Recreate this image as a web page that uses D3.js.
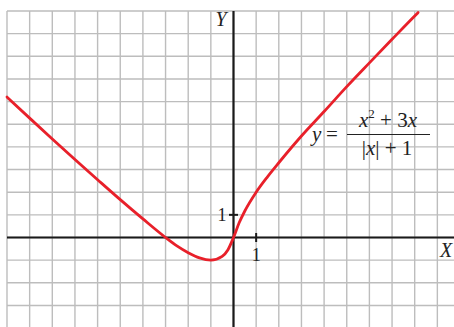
<!DOCTYPE html>
<html><head><meta charset="utf-8">
<script src="https://cdn.jsdelivr.net/npm/d3@7"></script>
<style>html,body{margin:0;padding:0;background:#fff;}svg{display:block;}</style>
</head><body>
<script>
// Points (x in grid units, y in grid units)
const curveX = [-10, -9, -8, -7, -6, -5, -4, -3, -2.5, -2, -1.5, -1, -0.5, -0.25, 0, 0.25, 0.5, 1, 1.5, 2, 3, 4, 5, 6, 7, 8, 8.15];
const curveY = [6.2, 5.27, 4.35, 3.44, 2.55, 1.67, 0.82, 0, -0.37, -0.67, -0.9, -1, -0.83, -0.55, 0, 0.65, 1.17, 2, 2.68, 3.3, 4.48, 5.56, 6.66, 7.71, 8.75, 9.78, 9.93];
const gridX = d3.range(-10, 10);   // vertical grid lines
const gridY = d3.range(-3, 11);    // horizontal grid lines
const xTickLabels = ["1"];
const yTickLabels = ["1"];

const W = 454, H = 327, U = 22.65;
const svg = d3.select("body").append("svg").attr("width", W).attr("height", H);
const x = d3.scaleLinear().domain([-10, 0]).range([7, 7 + 10 * U]);
const y = d3.scaleLinear().domain([0, 10]).range([237.5, 237.5 - 10 * U]);
const gTop = y(10), gLeft = x(-10);

const g = svg.append("g");
g.selectAll(".gv").data(gridX).enter().append("line")
  .attr("x1", d => x(d)).attr("x2", d => x(d)).attr("y1", gTop).attr("y2", H)
  .attr("stroke", "#bdbdbd").attr("stroke-width", 1.4);
g.selectAll(".gh").data(gridY).enter().append("line")
  .attr("x1", gLeft).attr("x2", W).attr("y1", d => y(d)).attr("y2", d => y(d))
  .attr("stroke", "#bdbdbd").attr("stroke-width", 1.4);

// axes
svg.append("line").attr("x1", gLeft).attr("x2", W).attr("y1", y(0)).attr("y2", y(0))
  .attr("stroke", "#1a1a1a").attr("stroke-width", 2.2);
svg.append("line").attr("x1", x(0)).attr("x2", x(0)).attr("y1", gTop).attr("y2", H)
  .attr("stroke", "#1a1a1a").attr("stroke-width", 2.2);
// ticks
svg.append("line").attr("x1", x(0) - 4.5).attr("x2", x(0) + 4.5).attr("y1", y(1)).attr("y2", y(1))
  .attr("stroke", "#1a1a1a").attr("stroke-width", 2);
svg.append("line").attr("x1", x(1)).attr("x2", x(1)).attr("y1", y(0) - 4.5).attr("y2", y(0) + 4.5)
  .attr("stroke", "#1a1a1a").attr("stroke-width", 2);

const font = "'Liberation Serif', 'DejaVu Serif', serif";
svg.append("text").attr("x", x(0) - 7).attr("y", y(1) + 6).attr("text-anchor", "end")
  .attr("font-family", font).attr("font-size", 18).attr("fill", "#222").text(yTickLabels[0]);
svg.append("text").attr("x", x(1)).attr("y", y(0) + 23).attr("text-anchor", "middle")
  .attr("font-family", font).attr("font-size", 18).attr("fill", "#222").text(xTickLabels[0]);
svg.append("text").attr("x", x(0) - 18).attr("y", 26).attr("font-family", font).attr("font-style", "italic")
  .attr("font-size", 20).attr("fill", "#222").text("Y");
svg.append("text").attr("x", 440).attr("y", 257).attr("font-family", font).attr("font-style", "italic")
  .attr("font-size", 20).attr("fill", "#222").text("X");

// curve
const pts = curveX.map((v, i) => [v, curveY[i]]);
svg.append("path").datum(pts)
  .attr("d", d3.line().x(d => x(d[0])).y(d => y(d[1])).curve(d3.curveMonotoneX))
  .attr("fill", "none").attr("stroke", "#e8202a").attr("stroke-width", 2.8).attr("stroke-linecap", "round");

// formula
const f = svg.append("g").attr("font-family", font).attr("font-size", 21).attr("fill", "#222");
f.append("text").attr("x", 312).attr("y", 141).attr("font-style", "italic").text("y");
f.append("text").attr("x", 326).attr("y", 141).text("=");
const num = f.append("text").attr("x", 388).attr("y", 127).attr("text-anchor", "middle");
num.append("tspan").attr("font-style", "italic").text("x");
num.append("tspan").attr("font-size", 13).attr("dy", -9).text("2");
num.append("tspan").attr("dy", 9).text(" + 3");
num.append("tspan").attr("font-style", "italic").text("x");
f.append("line").attr("x1", 347).attr("x2", 430).attr("y1", 134.5).attr("y2", 134.5)
  .attr("stroke", "#222").attr("stroke-width", 1.2);
const den = f.append("text").attr("x", 387).attr("y", 155).attr("text-anchor", "middle");
den.append("tspan").text("|");
den.append("tspan").attr("font-style", "italic").text("x");
den.append("tspan").text("| + 1");
</script>
</body></html>
